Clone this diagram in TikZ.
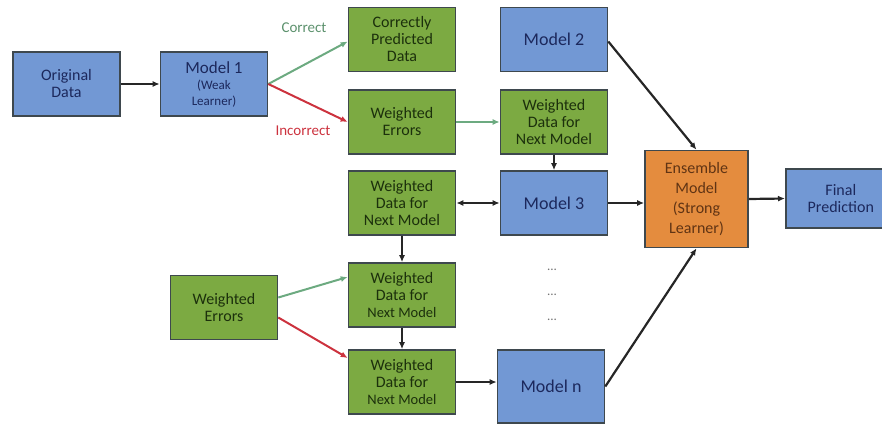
\documentclass[tikz,border=0pt]{standalone}
\usepackage{fontspec}
\setmainfont{Carlito}
\usetikzlibrary{arrows.meta}
\definecolor{bluefill}{RGB}{114,152,212}
\definecolor{greenfill}{RGB}{124,170,66}
\definecolor{orangefill}{RGB}{228,140,62}
\definecolor{edgegray}{RGB}{62,72,78}
\definecolor{bluetext}{RGB}{28,40,92}
\definecolor{greentext}{RGB}{28,48,12}
\definecolor{orangetext}{RGB}{96,52,20}
\definecolor{okgreen}{RGB}{108,170,128}
\definecolor{badred}{RGB}{204,50,62}
\begin{document}
\begin{tikzpicture}[x=1pt,y=-1pt,
  box/.style={draw=edgegray,line width=1.6pt,inner sep=0pt,align=center,
    font=\fontsize{16}{17}\selectfont},
  bluebox/.style={box,fill=bluefill,text=bluetext,minimum width=107pt,minimum height=64pt},
  greenbox/.style={box,fill=greenfill,text=greentext,minimum width=107pt,minimum height=64pt},
  orangebox/.style={box,fill=orangefill,text=orangetext,minimum width=103pt,minimum height=97pt,
    font=\fontsize{16}{20}\selectfont},
  bigtxt/.style={font=\fontsize{18}{20}\selectfont},
  flow/.style={line width=2.2pt,draw=black!85,-{Latex[length=7pt,width=6pt]}},
  both/.style={line width=2.2pt,draw=black!85,{Latex[length=7pt,width=6pt]}-{Latex[length=7pt,width=6pt]}},
  okflow/.style={line width=2pt,draw=okgreen,-{Latex[length=7pt,width=6pt]}},
  badflow/.style={line width=2pt,draw=badred,-{Latex[length=7pt,width=6pt]}},
  dots/.style={text=black!55,font=\fontsize{13}{13}\selectfont}
]
\useasboundingbox (0,0) rectangle (882,428);

% first stage
\node[bluebox] (orig) at (66.5,84) {Original\\Data};
\node[bluebox] (m1) at (214,84) {{\fontsize{17}{18}\selectfont Model 1}\\[-1pt]{\fontsize{13}{13}\selectfont (Weak}\\[-1pt]{\fontsize{13}{13}\selectfont Learner)}};

% column of data boxes
\node[greenbox] (corr) at (402,39.5) {Correctly\\Predicted\\Data};
\node[greenbox] (werr) at (402,122) {Weighted\\Errors};
\node[greenbox] (wd1) at (402,203) {Weighted\\Data for\\Next Model};
\node[greenbox] (wd2) at (402,295) {Weighted\\Data for\\{\fontsize{14.5}{16}\selectfont Next Model}};
\node[greenbox] (wd3) at (402,382) {Weighted\\Data for\\{\fontsize{14.5}{16}\selectfont Next Model}};
\node[greenbox] (werr2) at (224,307.5) {Weighted\\Errors};

% column of models
\node[bluebox,bigtxt] (m2) at (554,39.5) {Model 2};
\node[greenbox] (wdn) at (554,122) {Weighted\\Data for\\Next Model};
\node[bluebox,bigtxt] (m3) at (554,203) {Model 3};
\node[bluebox,bigtxt,minimum height=73pt] (mn) at (551,386.5) {Model n};

\node[dots] (d1) at (552,270) {...};
\node[dots] (d2) at (552,295) {...};
\node[dots] (d3) at (552,320) {...};

% combination
\node[orangebox] (ens) at (696.5,199) {Ensemble\\Model\\(Strong\\Learner)};
\node[bluebox,minimum width=110pt,minimum height=59pt,anchor=west] (final) at (785,198.5) {Final\\Prediction};

% labels on the split
\node[text=okgreen!85!black,font=\fontsize{15}{17}\selectfont] (lc) at (304,28) {Correct};
\node[text=badred,font=\fontsize{15}{17}\selectfont] (li) at (303,131) {Incorrect};

% connectors
\draw[flow] (orig.east) -- (m1.west);
\coordinate (split) at (m1.east);
\draw[okflow] (split) -- ([yshift=-2pt]corr.west);
\draw[badflow] (split) -- (werr.west);
\draw[okflow] (werr.east) -- (wdn.west);
\draw[flow] (wdn.south) -- (m3.north);
\draw[both] (wd1.east) -- (m3.west);
\draw[flow] (wd1.south) -- (wd2.north);
\draw[flow] (wd2.south) -- (wd3.north);
\draw[okflow] ([yshift=10pt]werr2.east) -- ([yshift=18pt]wd2.west);
\draw[badflow] ([yshift=-10pt]werr2.east) -- ([yshift=24pt]wd3.west);
\draw[flow] (wd3.east) -- (mn.west |- wd3.east);
\draw[flow] ([yshift=-2pt]m2.east) -- (ens.north);
\draw[flow] (m3.east) -- (ens.west |- m3.east);
\draw[flow] (mn.east) -- (ens.south);
\draw[flow] (ens.east) -- (final.west);
\end{tikzpicture}
\end{document}
